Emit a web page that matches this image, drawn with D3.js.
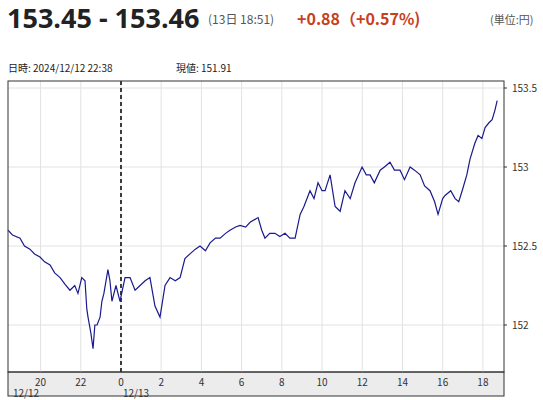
<!DOCTYPE html><html><head><meta charset="utf-8"><script src="https://d3js.org/d3.v7.min.js"></script>
<style>body{margin:0;background:#fff;font-family:"Noto Sans CJK JP","Noto Sans",sans-serif}</style></head><body><svg id="c" width="543" height="400"></svg>
<script>
const hours=[-5.62,-5.4,-5.02,-4.8,-4.53,-4.3,-4.03,-3.8,-3.53,-3.3,-3.03,-2.8,-2.54,-2.3,-2.14,-1.95,-1.79,-1.7,-1.64,-1.5,-1.39,-1.3,-1.19,-1.04,-0.95,-0.85,-0.65,-0.55,-0.45,-0.25,-0.05,0.2,0.45,0.7,0.95,1.2,1.44,1.69,1.94,2.19,2.44,2.7,2.94,3.18,3.43,3.7,3.93,4.2,4.43,4.7,4.93,5.2,5.42,5.7,5.92,6.2,6.42,6.82,7.0,7.16,7.4,7.66,7.9,8.16,8.4,8.66,8.91,9.1,9.4,9.6,9.8,10.0,10.15,10.4,10.65,10.9,11.14,11.4,11.64,11.99,12.2,12.39,12.6,12.89,13.1,13.38,13.6,13.88,14.1,14.38,14.6,14.88,15.1,15.37,15.6,15.77,16.0,16.12,16.4,16.62,16.8,16.97,17.2,17.36,17.6,17.76,17.95,18.11,18.3,18.46,18.6,18.71];
const prices=[152.60,152.57,152.55,152.50,152.48,152.45,152.43,152.40,152.38,152.33,152.30,152.26,152.22,152.25,152.20,152.30,152.28,152.10,152.05,151.95,151.85,152.0,152.0,152.05,152.15,152.20,152.35,152.28,152.15,152.25,152.15,152.30,152.30,152.22,152.25,152.28,152.30,152.12,152.05,152.25,152.30,152.28,152.30,152.42,152.45,152.48,152.50,152.47,152.52,152.55,152.55,152.58,152.60,152.62,152.63,152.62,152.65,152.68,152.60,152.55,152.58,152.58,152.56,152.58,152.55,152.55,152.70,152.75,152.85,152.80,152.90,152.85,152.85,152.95,152.75,152.72,152.85,152.80,152.90,153.00,152.95,152.95,152.90,152.98,153.00,153.03,152.98,152.98,152.92,153.00,152.98,152.95,152.88,152.85,152.78,152.70,152.80,152.82,152.85,152.80,152.78,152.85,152.95,153.05,153.15,153.20,153.18,153.25,153.28,153.30,153.36,153.42];
const xTicks=[-4,-2,0,2,4,6,8,10,12,14,16,18];
const xTickLabels=["20","22","0","2","4","6","8","10","12","14","16","18"];
const yTicks=[152,152.5,153,153.5];
const yTickLabels=["152","152.5","153","153.5"];
const svg=d3.select("#c");
const L=8,R=504,T=81,B=372;
const x=d3.scaleLinear().domain([-5.62,19.05]).range([L,R]);
const y=d3.scaleLinear().domain([153.5,152]).range([88,325]);
svg.append("text").attr("x",7).attr("y",28).attr("font-size",27).attr("font-weight","bold").attr("fill","#222").attr("font-family","Open Sans, sans-serif").text("153.45 - 153.46");
svg.append("text").attr("x",208).attr("y",24).attr("font-size",12).attr("fill","#555").text("(13日 18:51)");
svg.append("text").attr("x",297).attr("y",25).attr("font-size",16).attr("font-weight","bold").attr("fill","#c8401a").text("+0.88（+0.57%)");
svg.append("text").attr("x",490).attr("y",24).attr("font-size",11).attr("fill","#555").text("(単位:円)");
svg.append("text").attr("x",8).attr("y",72).attr("font-size",10).attr("fill","#222").text("日時: 2024/12/12  22:38");
svg.append("text").attr("x",176).attr("y",72).attr("font-size",10).attr("fill","#222").text("現値: 151.91");
svg.append("rect").attr("x",L).attr("y",B).attr("width",R-L).attr("height",24).attr("fill","#ececec").attr("stroke","#333");
xTicks.forEach(t=>svg.append("line").attr("x1",x(t)).attr("x2",x(t)).attr("y1",T).attr("y2",B).attr("stroke","#e2e2e2"));
yTicks.forEach(t=>svg.append("line").attr("x1",L).attr("x2",R).attr("y1",y(t)).attr("y2",y(t)).attr("stroke","#e2e2e2"));
svg.append("line").attr("x1",x(0)).attr("x2",x(0)).attr("y1",T).attr("y2",B).attr("stroke","#000").attr("stroke-width",1.5).attr("stroke-dasharray","4,3");
svg.append("path").datum(hours.map((h,i)=>[h,prices[i]])).attr("d",d3.line().x(d=>x(d[0])).y(d=>y(d[1]))).attr("fill","none").attr("stroke","#1a1a8c").attr("stroke-width",1.2);
svg.append("rect").attr("x",L).attr("y",T).attr("width",R-L).attr("height",B-T).attr("fill","none").attr("stroke","#333");
xTicks.forEach((t,i)=>svg.append("text").attr("x",x(t)).attr("y",386).attr("text-anchor","middle").attr("font-size",10).attr("fill","#333").text(xTickLabels[i]));
svg.append("text").attr("x",13).attr("y",397).attr("font-size",10).attr("fill","#333").text("12/12");
svg.append("text").attr("x",123).attr("y",397).attr("font-size",10).attr("fill","#333").text("12/13");
yTicks.forEach((t,i)=>{svg.append("line").attr("x1",R).attr("x2",R+3).attr("y1",y(t)).attr("y2",y(t)).attr("stroke","#333");
svg.append("text").attr("x",R+8).attr("y",y(t)+4).attr("font-size",10).attr("fill","#333").text(yTickLabels[i]);});
</script></body></html>
